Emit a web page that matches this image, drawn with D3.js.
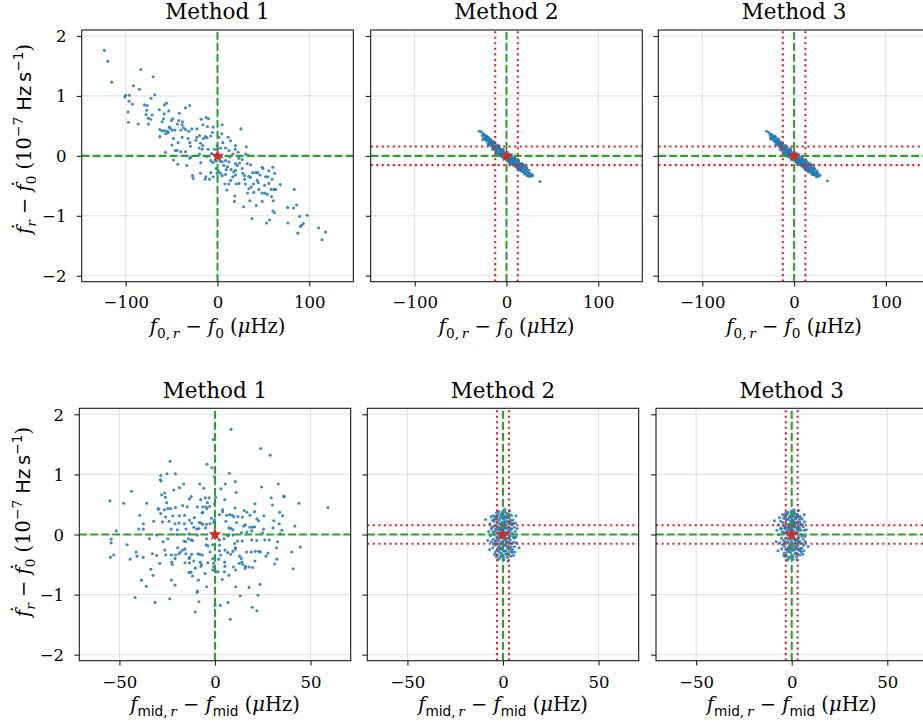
<!DOCTYPE html>
<html>
<head>
<meta charset="utf-8">
<script src="https://cdn.jsdelivr.net/npm/d3@7"></script>
<style>
  body { margin: 0; background: #fff; }
  svg { display: block; }
</style>
</head>
<body>
<svg id="fig" width="923" height="725"></svg>
<script>
// ---- data -----------------------------------------------------------------
const methods = ["Method 1", "Method 2", "Method 3"];
const f0Ticks = [-100, 0, 100];
const fmidTicks = [-50, 0, 50];
const fdotTicks = [-2, -1, 0, 1, 2];

// 1-sigma bands drawn for methods 2 and 3 (x in µHz, y in 1e-7 Hz/s)
const f0Sigma = 12.3;
const fmidSigma = 3.1;
const fdotSigma = 0.155;

// top row: (f0,r - f0, fdot_r - fdot_0)
const m1Top = [
[-123.3,1.76],[-119.6,1.58],[-115.3,1.23],[-83.6,1.44],[-70.2,1.32],[-91.6,1.17],[-85.1,1.11],[-101.1,0.98],[-100.0,1.01],[-96.0,1.01],
[-68.4,1.02],[-72.4,0.96],[-96.4,0.91],[-92.7,0.86],[-79.6,0.85],[-76.7,0.84],[-55.6,0.88],[-57.8,0.85],[-97.5,0.73],[-77.1,0.76],
[-77.8,0.69],[-63.3,0.77],[-53.1,0.75],[-30.2,0.84],[-34.9,0.80],[-41.5,0.71],[-58.2,0.70],[-58.9,0.62],[-71.3,0.68],[-75.6,0.63],
[-97.1,0.56],[-86.5,0.53],[-75.3,0.53],[-73.1,0.61],[-48.7,0.62],[-50.2,0.59],[-42.2,0.59],[-38.2,0.57],[-43.6,0.53],[-38.5,0.52],
[-60.4,0.57],[-52.4,0.48],[-62.9,0.44],[-60.4,0.42],[-57.8,0.42],[-54.5,0.41],[-49.5,0.43],[-46.5,0.43],[-40.0,0.43],[-37.1,0.47],
[-34.9,0.44],[-31.3,0.41],[-51.6,0.46],[-56.4,0.37],[-53.8,0.39],[-62.9,0.32],[-48.0,0.29],[-38.5,0.31],[-32.0,0.29],[-28.0,0.45],
[-22.5,0.45],[-17.8,0.61],[-12.4,0.64],[-9.8,0.62],[-16.0,0.52],[-10.9,0.49],[-4.7,0.48],[-5.5,0.39],[-7.3,0.33],[-11.3,0.30],
[-13.1,0.32],[-15.3,0.29],[-19.6,0.34],[-22.5,0.31],[-23.6,0.26],[-18.5,0.21],[-16.0,0.17],[-20.0,0.13],[-16.7,0.11],[-29.5,0.16],
[-30.2,0.22],[-42.9,0.22],[-49.8,0.18],[-46.2,0.09],[-44.0,0.09],[-56.7,0.06],[-40.0,0.07],[-34.9,0.07],[-29.1,-0.02],[-30.2,-0.04],
[-48.0,-0.07],[-43.3,-0.14],[-33.5,-0.16],[-18.2,-0.11],[-19.6,0.03],[-12.0,-0.01],[-10.2,0.11],[-6.5,0.04],[-3.3,0.11],[0.0,0.11],
[-0.4,0.17],[1.5,0.31],[5.1,0.52],[4.7,0.37],[5.8,0.22],[3.3,0.13],[8.7,0.13],[11.6,0.31],[14.2,0.25],[19.6,0.17],
[12.4,0.09],[16.7,0.03],[19.3,0.11],[25.5,0.45],[31.3,0.15],[30.5,0.03],[33.5,0.01],[22.5,0.06],[13.5,-0.02],[-7.3,-0.08],
[-5.1,-0.11],[-1.8,-0.09],[-1.5,-0.21],[3.3,-0.29],[5.1,-0.33],[-0.4,-0.29],[-4.7,-0.35],[-7.3,-0.28],[-12.7,-0.35],[-13.5,-0.39],
[-8.7,-0.39],[-18.5,-0.29],[-27.3,-0.33],[-26.5,-0.38],[0.7,-0.02],[4.4,-0.02],[8.7,-0.08],[12.4,-0.10],[10.9,-0.18],[9.5,-0.23],
[14.9,-0.23],[19.6,-0.13],[24.0,-0.12],[21.5,-0.16],[26.9,-0.21],[27.6,-0.29],[32.4,-0.13],[36.0,-0.15],[29.5,-0.33],[19.6,-0.32],
[16.7,-0.35],[14.2,-0.41],[12.4,-0.47],[8.0,-0.47],[10.2,-0.57],[23.3,-0.46],[20.4,-0.47],[30.5,-0.47],[29.5,-0.39],[34.2,-0.34],
[36.0,-0.36],[38.5,-0.28],[41.8,-0.28],[44.0,-0.28],[46.5,-0.32],[48.7,-0.19],[49.5,-0.21],[52.4,-0.35],[54.9,-0.35],[56.0,-0.25],
[60.4,-0.19],[62.2,-0.29],[59.6,-0.39],[43.3,-0.41],[44.4,-0.45],[39.3,-0.47],[36.7,-0.52],[34.2,-0.55],[32.7,-0.62],[18.9,-0.67],
[18.5,-0.76],[28.4,-0.85],[35.3,-0.75],[42.2,-0.83],[48.7,-0.76],[39.6,-0.61],[45.1,-0.56],[48.7,-0.62],[51.6,-0.62],[54.2,-0.64],
[58.5,-0.56],[61.5,-0.56],[68.4,-0.48],[58.9,-0.68],[60.7,-0.75],[63.3,-0.56],[60.4,-0.92],[62.2,-0.95],[83.6,-0.56],[76.4,-0.86],
[82.9,-0.87],[86.2,-0.82],[37.5,-1.05],[53.5,-1.12],[56.7,-1.07],[76.7,-1.12],[89.5,-1.01],[93.5,-1.13],[97.8,-0.99],[90.2,-1.18],
[91.6,-1.16],[87.6,-1.29],[110.2,-1.20],[117.8,-1.27],[113.8,-1.40],[51.3,-0.49],[56.0,-0.46],[23.3,-0.04],[26.9,-0.06],[5.1,-0.10],
[6.9,-0.16],[2.9,-0.09],[8.7,-0.31],[1.5,-0.26],[19.6,-0.24],[17.8,-0.27]
];

const m2Top = [
[-29.8,0.41],[-27.3,0.40],[-26.4,0.34],[-25.3,0.37],[-24.6,0.30],[-23.9,0.35],[-23.2,0.28],[-22.4,0.33],[-21.9,0.25],[-21.2,0.31],
[-20.6,0.27],[-20.0,0.21],[-19.4,0.30],[-18.8,0.24],[-18.1,0.19],[-17.6,0.27],[-17.0,0.22],[-16.4,0.16],[-15.9,0.24],[-15.3,0.19],
[-14.6,0.13],[-14.1,0.22],[-13.5,0.16],[-13.0,0.10],[-12.4,0.19],[-11.8,0.13],[-11.3,0.07],[-10.7,0.16],[-10.1,0.11],[-9.6,0.04],
[-9.0,0.14],[-8.5,0.08],[-7.9,0.02],[-7.3,0.12],[-6.8,0.05],[-6.2,0.00],[-5.7,0.10],[-5.1,0.04],[-4.5,-0.02],[-4.0,0.08],
[-3.4,0.02],[-2.9,-0.04],[-2.3,0.06],[-1.8,0.00],[-1.2,-0.05],[-0.7,0.05],[0.1,-0.02],[0.6,-0.07],[1.2,0.03],[1.7,-0.03],
[2.3,-0.09],[2.8,0.01],[3.4,-0.05],[3.9,-0.11],[4.5,-0.01],[5.0,-0.07],[5.6,-0.12],[6.1,-0.03],[6.7,-0.09],[7.3,-0.14],
[7.8,-0.05],[8.4,-0.11],[8.9,-0.16],[9.5,-0.07],[10.0,-0.13],[10.6,-0.18],[11.2,-0.09],[11.7,-0.15],[12.3,-0.20],[12.8,-0.11],
[13.4,-0.17],[14.0,-0.22],[14.5,-0.13],[15.1,-0.19],[15.7,-0.24],[16.2,-0.15],[16.8,-0.21],[17.4,-0.26],[18.0,-0.17],[18.6,-0.23],
[19.2,-0.28],[19.9,-0.19],[20.5,-0.25],[21.2,-0.30],[21.9,-0.21],[22.7,-0.27],[23.5,-0.32],[24.4,-0.24],[25.3,-0.29],[26.3,-0.34],
[27.6,-0.31],[28.4,-0.33],[36.4,-0.43],
[-18.4,0.22],[-12.1,0.14],[-8.2,0.11],[-4.8,0.06],[-1.5,0.02],[1.9,-0.01],[4.7,-0.04],[7.6,-0.08],[10.9,-0.12],[13.7,-0.15],
[17.1,-0.19],[20.8,-0.22],[-15.6,0.21],[-6.5,0.07],[0.3,0.01],[6.4,-0.06],[12.0,-0.14],[-22.7,0.30],[23.0,-0.26],
[-22.0,0.33],[-19.8,0.18],[-17.3,0.27],[-15.0,0.11],[-12.9,0.22],[-10.4,0.05],[-8.0,0.16],[-5.9,0.00],[-3.7,0.11],[-1.1,-0.05],
[1.0,0.06],[3.2,-0.11],[5.3,0.01],[7.1,-0.15],[9.3,-0.04],[11.5,-0.20],[13.2,-0.08],[15.5,-0.25],[17.8,-0.14],[19.6,-0.30],
[21.6,-0.19],[24.8,-0.34],[-25.8,0.27],[-20.5,0.31],[-14.7,0.24],[-9.3,0.18],[-3.9,0.11],[2.1,-0.09],[6.0,-0.13],[10.4,-0.18],
[14.9,-0.23],[18.9,-0.16],[-11.0,0.06],[-6.9,0.02],[0.0,-0.06],[4.0,0.02],[8.8,-0.04],[12.7,-0.08],[16.6,-0.13],[22.5,-0.33]
];

const m3Top = [
[-29.9,0.41],[-27.5,0.39],[-26.2,0.35],[-25.5,0.31],[-24.8,0.36],[-24.0,0.29],[-23.3,0.34],[-22.6,0.27],[-22.0,0.32],[-21.4,0.24],
[-20.8,0.30],[-20.1,0.25],[-19.5,0.20],[-18.9,0.28],[-18.3,0.23],[-17.7,0.18],[-17.1,0.26],[-16.6,0.20],[-16.0,0.15],[-15.4,0.23],
[-14.8,0.17],[-14.3,0.12],[-13.7,0.20],[-13.1,0.15],[-12.6,0.09],[-12.0,0.18],[-11.4,0.12],[-10.9,0.06],[-10.3,0.15],[-9.8,0.09],
[-9.2,0.03],[-8.7,0.13],[-8.1,0.07],[-7.5,0.01],[-7.0,0.11],[-6.4,0.05],[-5.9,-0.01],[-5.3,0.09],[-4.7,0.03],[-4.2,-0.03],
[-3.6,0.07],[-3.1,0.01],[-2.5,-0.05],[-2.0,0.05],[-1.4,-0.01],[-0.9,-0.06],[-0.3,0.04],[0.3,-0.03],[0.8,-0.08],[1.4,0.02],
[1.9,-0.04],[2.5,-0.10],[3.0,0.00],[3.6,-0.06],[4.1,-0.12],[4.7,-0.02],[5.3,-0.08],[5.8,-0.13],[6.4,-0.04],[6.9,-0.10],
[7.5,-0.15],[8.1,-0.06],[8.6,-0.12],[9.2,-0.17],[9.7,-0.08],[10.3,-0.14],[10.9,-0.19],[11.4,-0.10],[12.0,-0.16],[12.6,-0.21],
[13.1,-0.12],[13.7,-0.18],[14.3,-0.23],[14.8,-0.14],[15.4,-0.20],[16.0,-0.25],[16.5,-0.16],[17.1,-0.22],[17.7,-0.27],[18.3,-0.18],
[18.9,-0.24],[19.5,-0.29],[20.2,-0.20],[20.9,-0.26],[21.6,-0.31],[22.4,-0.22],[23.2,-0.28],[24.1,-0.33],[25.0,-0.25],[26.0,-0.30],
[27.0,-0.34],[28.2,-0.32],[36.3,-0.42],
[-19.0,0.24],[-13.4,0.17],[-9.5,0.12],[-5.6,0.06],[-2.2,0.03],[1.0,-0.01],[4.4,-0.05],[8.0,-0.09],[11.1,-0.13],[14.6,-0.17],
[18.0,-0.21],[21.3,-0.24],[-16.3,0.19],[-7.2,0.08],[-0.5,0.01],[5.9,-0.07],[12.3,-0.15],[-23.0,0.31],[24.6,-0.28],
[-21.7,0.32],[-19.6,0.19],[-17.0,0.28],[-14.9,0.10],[-12.6,0.21],[-10.6,0.06],[-7.8,0.15],[-6.1,-0.01],[-3.5,0.10],[-1.3,-0.06],
[1.2,0.05],[3.0,-0.12],[5.5,0.00],[7.3,-0.16],[9.1,-0.05],[11.7,-0.21],[13.4,-0.09],[15.3,-0.26],[17.6,-0.15],[19.8,-0.31],
[21.8,-0.20],[24.5,-0.35],[-25.6,0.28],[-20.3,0.32],[-14.5,0.23],[-9.5,0.17],[-4.1,0.12],[2.3,-0.10],[6.2,-0.14],[10.2,-0.19],
[15.1,-0.24],[19.1,-0.15],[-11.2,0.05],[-6.7,0.03],[0.2,-0.07],[3.8,0.03],[8.6,-0.03],[12.9,-0.07],[16.4,-0.12],[22.7,-0.32]
];

// bottom row: (fmid,r - fmid, fdot_r - fdot_0)
const m1Bot = [
[8.4,1.75],[-0.9,1.58],[23.9,1.43],[28.9,1.32],[-23.5,1.22],[-4.2,1.17],[-1.6,1.11],[-0.3,0.96],[7.5,1.02],[-25.1,1.01],
[-20.7,1.01],[-28.4,0.98],[-28.6,0.91],[-28.2,0.89],[-16.4,0.84],[-8.0,0.84],[5.4,0.84],[10.6,0.88],[24.4,0.79],[33.1,0.84],
[-18.6,0.78],[-21.6,0.74],[-5.9,0.77],[3.1,0.76],[11.1,0.70],[-43.7,0.72],[-26.3,0.69],[-27.9,0.66],[-26.0,0.62],[-25.3,0.53],
[-12.5,0.63],[-13.4,0.59],[-7.5,0.58],[-5.1,0.61],[-3.1,0.61],[0.3,0.62],[5.1,0.58],[29.4,0.61],[35.9,0.64],[36.2,0.63],
[-55.0,0.56],[-47.7,0.52],[-35.7,0.52],[-4.0,0.53],[-0.3,0.51],[20.9,0.51],[30.1,0.49],[43.9,0.52],[59.1,0.45],[-29.8,0.43],
[-29.4,0.42],[-26.5,0.41],[-24.7,0.43],[-23.2,0.43],[-20.7,0.45],[-16.9,0.48],[-14.5,0.46],[-9.2,0.46],[-6.3,0.46],[-4.7,0.46],
[-4.2,0.43],[-2.8,0.47],[4.0,0.41],[10.5,0.44],[15.3,0.40],[16.7,0.37],[20.7,0.38],[33.8,0.37],[-28.4,0.35],[-25.8,0.29],
[-22.1,0.31],[-18.6,0.31],[-15.9,0.32],[-13.4,0.24],[-10.8,0.28],[-6.8,0.36],[-6.4,0.37],[-1.9,0.27],[-0.3,0.24],[2.3,0.33],
[4.0,0.38],[6.1,0.32],[7.7,0.33],[9.1,0.32],[9.9,0.29],[12.0,0.30],[14.3,0.29],[18.3,0.32],[21.9,0.26],[25.6,0.31],
[30.8,0.23],[35.4,0.31],[-39.4,0.32],[-37.5,0.18],[-32.1,0.22],[-27.5,0.21],[-24.0,0.22],[-20.9,0.18],[-18.8,0.19],[-16.0,0.18],
[-12.2,0.19],[-11.1,0.12],[-8.2,0.20],[-7.3,0.19],[-6.4,0.17],[-4.4,0.17],[-2.6,0.18],[-0.7,0.20],[5.7,0.22],[7.3,0.11],
[8.4,0.10],[9.4,0.08],[11.3,0.20],[15.0,0.14],[15.9,0.16],[18.3,0.12],[19.7,0.12],[20.7,0.13],[22.8,0.23],[25.4,0.09],
[30.3,0.11],[33.6,0.18],[41.8,0.14],[-39.9,0.09],[-37.5,0.09],[-23.0,0.09],[-19.7,0.08],[-15.2,0.09],[-9.6,0.09],[-8.4,0.10],
[-4.9,0.11],[-51.7,0.06],[-30.5,-0.01],[-19.9,0.00],[-13.6,0.01],[-9.2,-0.01],[7.1,-0.01],[9.4,-0.01],[13.9,0.03],[16.7,0.04],
[19.3,0.06],[24.9,0.03],[34.0,0.01],[35.0,0.07],[-54.3,-0.08],[-54.3,-0.14],[-46.0,-0.17],[-34.3,-0.07],[-27.2,-0.12],[-24.7,-0.07],
[-16.2,-0.11],[-15.3,-0.12],[-13.9,-0.07],[-12.5,-0.09],[-11.7,-0.10],[-4.4,-0.07],[-4.7,-0.17],[-3.7,-0.19],[2.3,-0.09],[4.7,-0.07],
[6.6,-0.02],[10.3,-0.15],[10.6,-0.22],[11.8,-0.11],[14.3,-0.11],[19.2,-0.09],[21.8,-0.10],[26.1,-0.09],[28.4,-0.09],[32.7,-0.12],
[32.2,-0.22],[44.6,-0.21],[-54.7,-0.38],[-53.0,-0.34],[-44.4,-0.41],[-41.3,-0.29],[-40.8,-0.36],[-37.6,-0.38],[-32.7,-0.32],[-30.5,-0.35],
[-26.3,-0.26],[-25.8,-0.34],[-22.8,-0.34],[-20.6,-0.34],[-19.5,-0.22],[-18.8,-0.32],[-18.1,-0.29],[-16.9,-0.26],[-15.7,-0.24],[-15.3,-0.32],
[-13.6,-0.40],[-13.2,-0.38],[-12.2,-0.33],[-8.9,-0.32],[-8.0,-0.33],[-6.6,-0.34],[-2.6,-0.29],[-1.2,-0.17],[2.3,-0.27],[3.0,-0.34],
[5.2,-0.26],[6.6,-0.30],[8.2,-0.33],[9.4,-0.28],[10.8,-0.24],[12.9,-0.36],[13.8,-0.40],[14.5,-0.50],[15.7,-0.56],[16.5,-0.29],
[19.0,-0.29],[21.1,-0.28],[23.0,-0.28],[23.7,-0.29],[26.7,-0.36],[27.7,-0.31],[32.4,-0.41],[31.2,-0.49],[40.1,-0.29],[40.9,-0.57],
[-28.9,-0.48],[-22.6,-0.46],[-22.3,-0.50],[-20.9,-0.40],[-15.7,-0.47],[-13.4,-0.47],[-11.1,-0.44],[-7.7,-0.46],[-7.1,-0.50],[-7.3,-0.53],
[-3.8,-0.47],[-1.2,-0.40],[-0.7,-0.48],[1.9,-0.41],[5.1,-0.46],[5.2,-0.53],[9.6,-0.54],[10.8,-0.59],[12.7,-0.48],[14.1,-0.46],
[16.0,-0.53],[17.8,-0.54],[19.7,-0.55],[20.9,-0.44],[-33.6,-0.58],[-32.4,-0.68],[-38.5,-0.76],[-35.9,-0.86],[-22.8,-0.76],[-20.9,-0.84],
[-13.6,-0.63],[-12.5,-0.63],[-11.8,-0.69],[-10.3,-0.56],[-8.7,-0.76],[-5.2,-0.65],[-4.4,-0.87],[-1.2,-0.59],[-0.7,-0.54],[0.5,-0.62],
[1.6,-0.62],[3.8,-0.75],[4.9,-0.62],[7.3,-0.68],[10.8,-0.87],[13.2,-1.02],[17.8,-0.88],[22.5,-1.01],[23.5,-0.83],[-41.8,-1.05],
[-31.4,-1.13],[-23.7,-1.07],[-9.1,-0.94],[-9.4,-0.96],[-8.4,-1.12],[-10.3,-1.29],[0.0,-1.18],[2.8,-1.18],[6.8,-1.13],[19.5,-1.21],
[21.9,-1.27],[8.0,-1.41],[2.4,-0.18]
];

const m2Bot = [
[-9.1,0.25],[0.9,0.42],[3.5,0.39],[8.4,-0.22],[-7.0,-0.25],[-4.4,-0.33],[-2.6,-0.42],[2.6,-0.44],[6.8,0.31],[-6.2,0.30],[5.5,-0.35],
[-5.8,0.12],[-5.1,-0.08],[-4.7,0.22],[-4.2,0.05],[-3.9,-0.18],[-3.6,0.15],[-3.3,-0.04],[-3.0,0.27],[-2.8,0.08],[-2.5,-0.22],
[-2.3,-0.10],[-2.0,0.18],[-1.8,0.02],[-1.6,-0.30],[-1.4,0.11],[-1.2,-0.15],[-1.0,0.33],[-0.8,-0.05],[-0.6,0.20],[-0.4,-0.24],
[-0.2,0.07],[0.0,-0.12],[0.2,0.26],[0.4,-0.02],[0.6,0.14],[0.8,-0.28],[1.0,0.04],[1.2,-0.18],[1.4,0.22],[1.6,-0.07],
[1.8,0.10],[2.0,-0.33],[2.2,0.30],[2.4,-0.12],[2.7,0.06],[3.0,-0.20],[3.3,0.17],[3.6,-0.03],[3.9,0.24],[4.2,-0.15],
[4.6,0.09],[5.0,-0.25],[5.4,0.18],[5.9,-0.06],[6.4,0.05],[7.0,-0.14],
[-6.6,-0.02],[-5.4,-0.22],[-4.9,0.31],[-4.0,-0.29],[-3.4,0.36],[-2.9,-0.34],[-2.2,0.38],[-1.5,0.28],[-1.1,-0.36],[-0.5,0.35],
[0.3,-0.38],[0.7,0.31],[1.5,-0.27],[1.9,0.35],[2.8,-0.30],[3.2,0.28],[4.0,-0.36],[4.4,0.32],[5.2,0.24],[6.0,-0.20],
[6.5,0.19],[7.4,0.10],[-7.5,0.05],[-6.9,0.18],[-6.0,-0.12],[-3.7,-0.10],[-2.6,0.13],[-1.9,-0.19],[-0.9,0.09],[-0.1,-0.21],
[1.1,0.18],[2.1,0.00],[2.9,0.12],[3.8,-0.09],[4.8,0.02],[5.6,-0.13],[-4.5,0.00],[-3.1,0.20],[-1.3,-0.01],[0.5,0.10],
[1.7,-0.12],[3.4,-0.24],[-5.5,0.24],[-2.4,-0.27],[0.1,0.30],[2.5,0.21],[4.3,-0.21],[-0.7,-0.32],[6.2,-0.29],[-8.0,-0.10],
[-4.8,0.14],[-4.1,-0.12],[-3.5,0.26],[-3.2,-0.26],[-2.7,0.02],[-2.1,-0.06],[-1.9,0.24],[-1.5,0.06],[-1.3,-0.24],[-0.9,0.17],
[-0.6,-0.12],[-0.3,0.28],[0.0,0.02],[0.3,-0.27],[0.6,0.21],[0.9,-0.09],[1.2,0.13],[1.5,-0.33],[1.8,0.27],[2.1,-0.20],
[2.4,0.02],[2.7,-0.06],[3.0,0.20],[3.4,-0.14],[3.8,0.10],[4.3,-0.28],[4.7,0.18],[5.3,-0.04],[-5.2,0.04],[-3.8,0.30],
[-2.5,0.33],[-0.2,0.38],[1.1,0.38],[2.9,0.34],[-1.7,-0.39],[0.5,-0.42],[2.3,-0.38],[-3.5,-0.37],[4.9,-0.30],[-6.0,0.09],
[6.8,-0.04],[-5.0,-0.16],[5.9,0.12],[-0.4,0.12],[0.8,-0.17],[-1.6,0.10],[1.6,0.00],[-2.9,-0.15],[3.6,0.06],[-4.4,0.26],
[4.0,0.20],[-0.1,-0.05],[-1.0,-0.23],[1.3,0.28],[2.6,-0.23],[-3.9,0.09],[-2.2,-0.02],[0.2,0.17],[3.2,-0.02],[-0.8,0.01]
];

const m3Bot = [
[-9.0,0.23],[1.2,0.41],[3.7,0.40],[8.6,-0.20],[-7.2,-0.27],[-4.2,-0.35],[-2.4,-0.43],[2.8,-0.42],[6.6,0.33],[-6.4,0.28],[5.8,-0.33],
[-5.6,0.10],[-5.3,-0.06],[-4.5,0.20],[-4.0,0.03],[-3.7,-0.20],[-3.4,0.13],[-3.1,-0.06],[-2.8,0.25],[-2.6,0.06],[-2.3,-0.24],
[-2.1,-0.12],[-1.8,0.16],[-1.6,0.00],[-1.4,-0.28],[-1.2,0.13],[-1.0,-0.17],[-0.8,0.31],[-0.6,-0.07],[-0.4,0.22],[-0.2,-0.22],
[0.0,0.09],[0.2,-0.14],[0.4,0.24],[0.6,-0.04],[0.8,0.16],[1.0,-0.26],[1.2,0.06],[1.4,-0.20],[1.6,0.20],[1.8,-0.09],
[2.0,0.12],[2.2,-0.31],[2.4,0.28],[2.6,-0.10],[2.9,0.08],[3.2,-0.18],[3.5,0.15],[3.8,-0.05],[4.1,0.26],[4.4,-0.13],
[4.8,0.07],[5.2,-0.23],[5.6,0.16],[6.1,-0.08],[6.6,0.07],[7.2,-0.12],
[-6.8,0.00],[-5.2,-0.24],[-4.7,0.33],[-3.8,-0.31],[-3.2,0.35],[-2.7,-0.36],[-2.0,0.37],[-1.3,0.29],[-0.9,-0.37],[-0.3,0.36],
[0.5,-0.36],[0.9,0.33],[1.7,-0.25],[2.1,0.34],[3.0,-0.32],[3.4,0.30],[4.2,-0.34],[4.6,0.30],[5.4,0.26],[6.2,-0.18],
[6.7,0.21],[7.6,0.08],[-7.7,0.07],[-7.1,0.16],[-6.2,-0.14],[-3.5,-0.12],[-2.4,0.11],[-1.7,-0.21],[-0.7,0.07],[0.1,-0.23],
[1.3,0.19],[2.3,0.02],[3.1,0.10],[4.0,-0.11],[5.0,0.00],[5.8,-0.15],[-4.3,0.02],[-2.9,0.18],[-1.1,0.01],[0.7,0.12],
[1.9,-0.14],[3.6,-0.26],[-5.7,0.22],[-2.2,-0.29],[0.3,0.31],[2.7,0.19],[4.5,-0.23],[-0.5,-0.30],[6.4,-0.27],[-8.2,-0.12],
[-4.6,0.15],[-4.3,-0.10],[-3.3,0.27],[-3.0,-0.25],[-2.5,0.03],[-1.9,-0.07],[-1.7,0.25],[-1.3,0.07],[-1.1,-0.25],[-0.7,0.18],
[-0.4,-0.11],[-0.1,0.27],[0.2,0.03],[0.5,-0.26],[0.8,0.22],[1.1,-0.08],[1.4,0.14],[1.7,-0.32],[2.0,0.26],[2.3,-0.21],
[2.6,0.03],[2.9,-0.07],[3.2,0.19],[3.6,-0.13],[4.0,0.11],[4.5,-0.27],[4.9,0.17],[5.5,-0.03],[-5.0,0.05],[-3.6,0.31],
[-2.3,0.34],[0.0,0.39],[1.3,0.37],[3.1,0.33],[-1.5,-0.40],[0.7,-0.41],[2.5,-0.37],[-3.3,-0.36],[5.1,-0.29],[-5.8,0.10],
[7.0,-0.03],[-4.8,-0.17],[6.1,0.13],[-0.2,0.13],[1.0,-0.16],[-1.4,0.11],[1.8,0.01],[-2.7,-0.14],[3.8,0.07],[-4.2,0.27],
[4.2,0.21],[0.1,-0.04],[-0.8,-0.22],[1.5,0.29],[2.8,-0.22],[-3.7,0.10],[-2.0,-0.01],[0.4,0.18],[3.4,-0.01],[-0.6,0.02]
];

// ---- axis label pieces (mathtext-like) ------------------------------------
// f: "serif" | "sans", i: italic, s: "sub" | "sup"
const f0Label = [
  {t:"f", f:"serif", i:true}, {t:"0,\u2009", f:"serif", s:"sub"}, {t:"r", f:"serif", i:true, s:"sub"},
  {t:" \u2212 ", f:"serif"}, {t:"f", f:"serif", i:true}, {t:"0", f:"serif", s:"sub"},
  {t:" (", f:"serif"}, {t:"\u03bc", f:"serif", i:true}, {t:"Hz)", f:"serif"}
];
const fmidLabel = [
  {t:"f", f:"serif", i:true}, {t:"mid", f:"sans", s:"sub"}, {t:",\u2009", f:"serif", s:"sub"}, {t:"r", f:"serif", i:true, s:"sub"},
  {t:" \u2212 ", f:"serif"}, {t:"f", f:"serif", i:true}, {t:"mid", f:"sans", s:"sub"},
  {t:" (", f:"serif"}, {t:"\u03bc", f:"serif", i:true}, {t:"Hz)", f:"serif"}
];
const fdotLabel = [
  {t:"\u1e1f", f:"serif", i:true}, {t:"r", f:"serif", i:true, s:"sub"},
  {t:" \u2212 ", f:"serif"}, {t:"\u1e1f", f:"serif", i:true}, {t:"0", f:"serif", s:"sub"},
  {t:" (10", f:"serif"}, {t:"\u22127", f:"serif", s:"sup"}, {t:" Hz\u2009s", f:"sans"}, {t:"\u22121", f:"sans", s:"sup"},
  {t:")", f:"serif"}
];

// ---- layout ---------------------------------------------------------------
const SERIF = "'DejaVu Serif', serif";
const SANS = "'DejaVu Sans', sans-serif";
const TITLE_SIZE = 21.5;
const TICK_SIZE = 16.5;
const LABEL_SIZE = 19.5;
const yDomain = [-2.1, 2.1];

const rows = [
  { top: 30, height: 251.7, width: 271.6, lefts: [81.7, 370.7, 658.3],
    xDomain: [-148, 148], xTicks: f0Ticks, sets: [m1Top, m2Top, m3Top], sigX: f0Sigma,
    xLabel: f0Label, titleY: 19, tickBase: 26.8, xLabelY: 333, yLabelX: 31, yLabelY: 139 },
  { top: 408.3, height: 252.4, width: 271.4, lefts: [79.3, 367.3, 656],
    xDomain: [-71, 71], xTicks: fmidTicks, sets: [m1Bot, m2Bot, m3Bot], sigX: fmidSigma,
    xLabel: fmidLabel, titleY: 398, tickBase: 27, xLabelY: 711, yLabelX: 30, yLabelY: 522 }
];

const svg = d3.select("#fig");
const defs = svg.append("defs");
const fmtTick = d => d < 0 ? "\u2212" + Math.abs(d) : String(d);

function mathText(sel, parts, size) {
  const text = sel.append("text").attr("text-anchor", "middle").attr("fill", "#000");
  let cur = 0;
  parts.forEach(p => {
    const target = p.s === "sub" ? 0.24 * size : p.s === "sup" ? -0.42 * size : 0;
    text.append("tspan")
      .attr("font-family", p.f === "sans" ? SANS : SERIF)
      .attr("font-style", p.i ? "italic" : "normal")
      .attr("font-size", p.s ? size * 0.7 : size)
      .attr("dy", target - cur)
      .text(p.t);
    cur = target;
  });
  return text;
}

rows.forEach((row, ri) => {
  row.lefts.forEach((left, ci) => {
    const bottom = row.top + row.height;
    const right = left + row.width;
    const x = d3.scaleLinear().domain(row.xDomain).range([left, right]);
    const y = d3.scaleLinear().domain(yDomain).range([bottom, row.top]);
    const g = svg.append("g");

    const clipId = `clip-${ri}-${ci}`;
    defs.append("clipPath").attr("id", clipId)
      .append("rect").attr("x", left).attr("y", row.top)
      .attr("width", row.width).attr("height", row.height);
    const plot = g.append("g").attr("clip-path", `url(#${clipId})`);

    // grid
    plot.append("g").selectAll("line").data(row.xTicks).join("line")
      .attr("x1", d => x(d)).attr("x2", d => x(d)).attr("y1", row.top).attr("y2", bottom)
      .attr("stroke", "#b0b0b0").attr("stroke-opacity", 0.35).attr("stroke-width", 1.1);
    plot.append("g").selectAll("line").data(fdotTicks).join("line")
      .attr("y1", d => y(d)).attr("y2", d => y(d)).attr("x1", left).attr("x2", right)
      .attr("stroke", "#b0b0b0").attr("stroke-opacity", 0.35).attr("stroke-width", 1.1);

    // scatter
    plot.append("g").selectAll("circle").data(row.sets[ci]).join("circle")
      .attr("cx", d => x(d[0])).attr("cy", d => y(d[1])).attr("r", 1.55)
      .attr("fill", "#1f77b4").attr("fill-opacity", 0.85);

    // zero lines
    plot.append("line").attr("x1", x(0)).attr("x2", x(0)).attr("y1", bottom).attr("y2", row.top)
      .attr("stroke", "#2ca02c").attr("stroke-width", 2.08).attr("stroke-dasharray", "7.7,3.3");
    plot.append("line").attr("x1", left).attr("x2", right).attr("y1", y(0)).attr("y2", y(0))
      .attr("stroke", "#2ca02c").attr("stroke-width", 2.08).attr("stroke-dasharray", "7.7,3.3");

    // 1-sigma bands
    if (ci > 0) {
      [-row.sigX, row.sigX].forEach(v => {
        plot.append("line").attr("x1", x(v)).attr("x2", x(v)).attr("y1", bottom).attr("y2", row.top)
          .attr("stroke", "#d62728").attr("stroke-width", 2.08).attr("stroke-dasharray", "2.08,3.44");
      });
      [-fdotSigma, fdotSigma].forEach(v => {
        plot.append("line").attr("x1", left).attr("x2", right).attr("y1", y(v)).attr("y2", y(v))
          .attr("stroke", "#d62728").attr("stroke-width", 2.08).attr("stroke-dasharray", "2.08,3.44");
      });
    }

    // true value
    plot.append("path")
      .attr("d", d3.symbol(d3.symbolStar, 55)())
      .attr("transform", `translate(${x(0)},${y(0)})`)
      .attr("fill", "#d62728");

    // spines
    g.append("rect").attr("x", left).attr("y", row.top).attr("width", row.width).attr("height", row.height)
      .attr("fill", "none").attr("stroke", "#1a1a1a").attr("stroke-width", 1.1);

    // axes
    const ax = g.append("g").attr("transform", `translate(0,${bottom})`)
      .call(d3.axisBottom(x).tickValues(row.xTicks).tickSize(4.9).tickSizeOuter(0).tickFormat(fmtTick));
    ax.attr("font-family", SERIF).attr("font-size", TICK_SIZE);
    ax.select(".domain").remove();
    ax.selectAll(".tick line").attr("stroke", "#1a1a1a").attr("stroke-width", 1.1);
    ax.selectAll(".tick text").attr("y", row.tickBase).attr("dy", null).attr("fill", "#000");

    const ay = g.append("g").attr("transform", `translate(${left},0)`)
      .call(d3.axisLeft(y).tickValues(fdotTicks).tickSize(4.9).tickPadding(10.4).tickSizeOuter(0)
        .tickFormat(ci === 0 ? fmtTick : () => ""));
    ay.attr("font-family", SERIF).attr("font-size", TICK_SIZE);
    ay.select(".domain").remove();
    ay.selectAll(".tick line").attr("stroke", "#1a1a1a").attr("stroke-width", 1.1);
    ay.selectAll(".tick text").attr("dy", "0.36em").attr("fill", "#000");

    // title
    g.append("text").attr("x", (left + right) / 2).attr("y", row.titleY)
      .attr("text-anchor", "middle").attr("font-family", SERIF).attr("font-size", TITLE_SIZE)
      .attr("fill", "#000").text(methods[ci]);

    // x label
    mathText(g.append("g").attr("transform", `translate(${(left + right) / 2},${row.xLabelY})`), row.xLabel, LABEL_SIZE);

    // y label
    if (ci === 0) {
      mathText(g.append("g").attr("transform", `translate(${row.yLabelX},${row.yLabelY}) rotate(-90)`), fdotLabel, LABEL_SIZE);
    }
  });
});
</script>
</body>
</html>
